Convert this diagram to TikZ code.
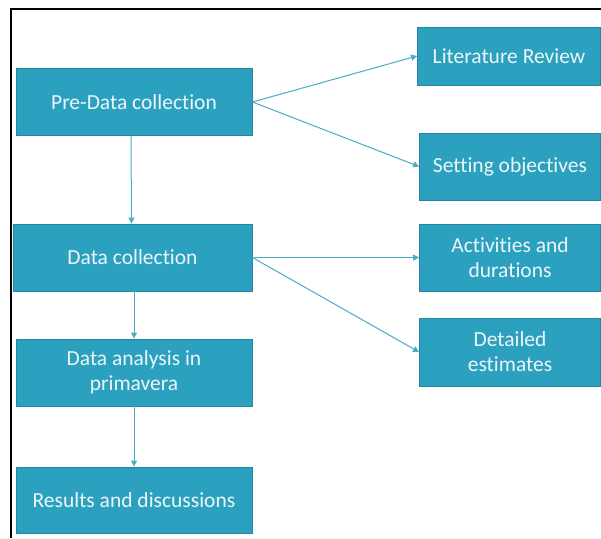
\documentclass[tikz,border=0pt]{standalone}
\usepackage{fontspec}
\setmainfont[Ligatures=NoCommon]{Carlito}
\usetikzlibrary{arrows.meta}
\definecolor{boxfill}{RGB}{44,161,191}
\definecolor{boxline}{RGB}{36,135,162}
\definecolor{arrowc}{RGB}{75,172,198}
\definecolor{txt}{RGB}{236,246,249}
\begin{document}
\begin{tikzpicture}[x=1pt,y=-1pt,
  box/.style={draw=boxline, line width=0.8pt, fill=boxfill, text=txt, font=\fontsize{21.5}{25}\selectfont, align=center, inner sep=0pt},
  conn/.style={draw=arrowc, line width=1pt, -{Triangle[length=6pt,width=6pt]}}]
\useasboundingbox (0,0) rectangle (601,538);
\fill[white] (0,0) rectangle (601,538);
\draw[black, line width=2pt] (11,538) -- (11,9) -- (601,9);
\node[box, minimum width=236, minimum height=67] (pre) at (134,102) {Pre-Data collection};
\node[box, minimum width=239, minimum height=67] (dc) at (132.5,257.5) {Data collection};
\node[box, minimum width=236, minimum height=67] (da) at (134,372.5) {Data analysis in\\primavera};
\node[box, minimum width=236, minimum height=66] (rd) at (134,500) {Results and discussions};
\node[box, minimum width=183, minimum height=58] (lr) at (509,56) {Literature Review};
\node[box, minimum width=181, minimum height=67] (so) at (510,166.5) {Setting objectives};
\node[box, minimum width=181, minimum height=67] (ad) at (510,257.5) {Activities and\\durations};
\node[box, minimum width=181, minimum height=68] (de) at (510,352) {Detailed\\estimates};
\draw[conn] (pre.east) -- (lr.west);
\draw[conn] (pre.east) -- (so.west);
\draw[conn] ([xshift=-3pt]pre.south) -- ([xshift=-1pt]dc.north);
\draw[conn] (dc.east) -- (ad.west);
\draw[conn] (dc.east) -- (de.west);
\draw[conn] (dc.south) ++(1.5,0) -- ([xshift=0pt]da.north);
\draw[conn] (da.south) -- (rd.north);
\end{tikzpicture}
\end{document}
